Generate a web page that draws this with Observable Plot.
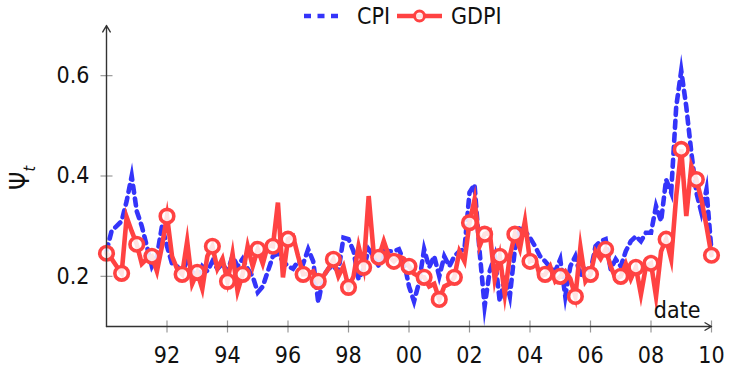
<!DOCTYPE html>
<html>
<head>
<meta charset="utf-8">
<script src="https://cdn.jsdelivr.net/npm/d3@7"></script>
<script src="https://cdn.jsdelivr.net/npm/@observablehq/plot@0.6"></script>
<style>
  html, body { margin: 0; padding: 0; background: #fff; }
  #wrap { position: relative; width: 730px; height: 367px; font-family: "DejaVu Sans Condensed", "Liberation Sans Narrow", "DejaVu Sans", sans-serif; }
  #chart { position: absolute; left: 0; top: 0; }
  #legend { position: absolute; left: 304px; top: 2px; height: 28px; display: flex; align-items: center; font-size: 23px; color: #111; }
  #legend svg { display: block; }
  #ylab { position: absolute; left: 22px; top: 178px; transform: translate(-50%, -50%) rotate(-90deg); font-size: 26px; white-space: nowrap; color: #111; }
  #ylab sub { font-size: 16px; font-style: italic; }
</style>
</head>
<body>
<div id="wrap">
  <div id="chart"></div>
  <div id="legend"></div>
  <div id="ylab">Ψ<sub>t</sub></div>
</div>
<script>
// ---- data (sampled every 2 months from 1990.0 to 2010.0) ----
const startYear = 1990;
const stepsPerYear = 6;

const cpi = [
  0.25, 0.29, 0.30, 0.31, 0.35, 0.40,   // 1990
  0.33, 0.30, 0.26, 0.22, 0.24, 0.30,   // 1991
  0.26, 0.225, 0.22, 0.21, 0.23, 0.21,  // 1992
  0.195, 0.22, 0.21, 0.23, 0.215, 0.225,// 1993
  0.21, 0.24, 0.22, 0.235, 0.215, 0.20, // 1994
  0.168, 0.18, 0.21, 0.24, 0.245, 0.23, // 1995
  0.22, 0.215, 0.23, 0.225, 0.254, 0.23,// 1996
  0.148, 0.20, 0.215, 0.22, 0.21, 0.277,// 1997
  0.274, 0.25, 0.194, 0.215, 0.254, 0.24,// 1998
  0.22, 0.254, 0.25, 0.25, 0.254, 0.23, // 1999
  0.18, 0.15, 0.188, 0.254, 0.218, 0.24,// 2000
  0.20, 0.24, 0.22, 0.24, 0.25, 0.254,  // 2001
  0.367, 0.383, 0.25, 0.14, 0.21, 0.24, // 2002
  0.15, 0.20, 0.16, 0.254, 0.30, 0.29,  // 2003
  0.277, 0.26, 0.24, 0.23, 0.218, 0.21, // 2004
  0.234, 0.16, 0.22, 0.24, 0.20, 0.22,  // 2005
  0.21, 0.26, 0.27, 0.274, 0.214, 0.234,// 2006
  0.22, 0.25, 0.27, 0.28, 0.27, 0.287,  // 2007
  0.287, 0.34, 0.31, 0.393, 0.367, 0.538,// 2008
  0.61, 0.538, 0.447, 0.367, 0.327, 0.373,// 2009
  0.25                                   // 2010
];

const gdpi = [
  0.246, 0.235, 0.22,  0.206, 0.318, 0.29,   // 1990
  0.264, 0.225, 0.235, 0.24, 0.21, 0.26,     // 1991
  0.32, 0.24, 0.215,   0.204, 0.27, 0.185,   // 1992
  0.208, 0.175, 0.24,  0.26, 0.215, 0.235,   // 1993
  0.19, 0.245, 0.17,   0.204, 0.26, 0.22,    // 1994
  0.254, 0.225, 0.262, 0.26, 0.347, 0.198,   // 1995
  0.274, 0.28, 0.24,   0.204, 0.205, 0.21,   // 1996
  0.19, 0.20, 0.215,   0.234, 0.20, 0.22,    // 1997
  0.178, 0.20, 0.26,   0.218, 0.36, 0.245,   // 1998
  0.238, 0.27, 0.24,   0.23, 0.24, 0.235,    // 1999
  0.22, 0.205, 0.20,   0.198, 0.18, 0.185,   // 2000
  0.154, 0.18, 0.185,  0.198, 0.25, 0.23,    // 2001
  0.307, 0.353, 0.26,  0.284, 0.29, 0.194,   // 2002
  0.24, 0.164, 0.24,   0.284, 0.255, 0.31,   // 2003
  0.23, 0.235, 0.20,   0.204, 0.22, 0.19,    // 2004
  0.20, 0.21, 0.195,   0.16, 0.258, 0.19,    // 2005
  0.204, 0.25, 0.235,  0.254, 0.22, 0.195,   // 2006
  0.20, 0.225, 0.195,  0.218, 0.164, 0.22,   // 2007
  0.226, 0.16, 0.25,   0.274, 0.234, 0.36,   // 2008
  0.453, 0.32, 0.42,   0.393, 0.353, 0.30,   // 2009
  0.242                                      // 2010
];
const markEvery = 3; // a circle every half year

const seriesNames = ["CPI", "GDPI"];
const seriesColors = ["#3434fa", "#ff4242"];

const xTicks = [1992, 1994, 1996, 1998, 2000, 2002, 2004, 2006, 2008, 2010];
const xTickLabels = ["92", "94", "96", "98", "00", "02", "04", "06", "08", "10"];
const yTicks = [0.2, 0.4, 0.6];
const yTickLabels = ["0.2", "0.4", "0.6"];
const xLabel = "date";

// ---- build tables ----
const cpiData = cpi.map((v, i) => ({ t: startYear + i / stepsPerYear, v }));
const gdpiData = gdpi.map((v, i) => ({ t: startYear + i / stepsPerYear, v, i }));
const gdpiMarks = gdpiData.filter(d => d.i % markEvery === 0);

const font = "'DejaVu Sans Condensed', 'Liberation Sans Narrow', 'DejaVu Sans', sans-serif";

// tick-mark symbols crossing the axis line
const vTick = { draw(ctx) { ctx.moveTo(0, -6); ctx.lineTo(0, 6); } };
const hTick = { draw(ctx) { ctx.moveTo(-6, 0); ctx.lineTo(6, 0); } };

const plot = Plot.plot({
  width: 730,
  height: 367,
  marginLeft: 106,
  marginRight: 19,
  marginTop: 25,
  marginBottom: 41,
  style: { fontFamily: font, fontSize: "23px", color: "#111", background: "white" },
  x: { domain: [1990, 2010] },
  y: { domain: [0.1, 0.7] },
  marks: [
    // data
    Plot.line(cpiData, { x: "t", y: "v", stroke: seriesColors[0], strokeWidth: 4.6, strokeDasharray: "7,6", strokeLinejoin: "miter", strokeMiterlimit: 10 }),
    Plot.line(gdpiData, { x: "t", y: "v", stroke: seriesColors[1], strokeWidth: 4.6, strokeLinejoin: "miter", strokeMiterlimit: 10 }),
    Plot.dot(gdpiMarks, { x: "t", y: "v", r: 6.8, stroke: seriesColors[1], strokeWidth: 3.6, fill: "white", fillOpacity: 0.85 }),
    // tick marks crossing the axes
    Plot.dot(xTicks, { x: d => d, y: () => 0.1, symbol: vTick, stroke: "#999", strokeWidth: 1.2, fill: "none" }),
    Plot.dot(yTicks, { x: () => 1990, y: d => d, symbol: hTick, stroke: "#999", strokeWidth: 1.2, fill: "none" }),
    // axis lines with arrows
    Plot.arrow([{ x1: 1990, y1: 0.1, x2: 2010, y2: 0.1 }], { x1: "x1", y1: "y1", x2: "x2", y2: "y2", stroke: "#333", strokeWidth: 1.4, headLength: 8, bend: 0 }),
    Plot.arrow([{ x1: 1990, y1: 0.1, x2: 1990, y2: 0.7 }], { x1: "x1", y1: "y1", x2: "x2", y2: "y2", stroke: "#333", strokeWidth: 1.4, headLength: 8, bend: 0 }),
    // tick labels
    Plot.axisX({ ticks: xTicks, tickFormat: d => xTickLabels[xTicks.indexOf(d)], tickSize: 0, tickPadding: 20, fontSize: 23, fill: "#111", label: null }),
    Plot.axisY({ ticks: yTicks, tickFormat: d => yTickLabels[yTicks.indexOf(d)], tickSize: 0, tickPadding: 17, fontSize: 23, fill: "#111", label: null }),
    // axis name
    Plot.text([xLabel], { frameAnchor: "bottom-right", dx: -11, dy: -9, textAnchor: "end", lineAnchor: "bottom", fontSize: 23, fill: "#111" })
  ]
});
document.getElementById("chart").appendChild(plot);

// ---- legend ----
const legend = document.getElementById("legend");
const svgNS = "http://www.w3.org/2000/svg";
function swatch(kind, color) {
  const w = kind === "dash" ? 40 : 45;
  const s = document.createElementNS(svgNS, "svg");
  s.setAttribute("width", w); s.setAttribute("height", 24);
  const l = document.createElementNS(svgNS, "line");
  l.setAttribute("x1", 0); l.setAttribute("x2", w); l.setAttribute("y1", 12); l.setAttribute("y2", 12);
  l.setAttribute("stroke", color); l.setAttribute("stroke-width", 4.6);
  if (kind === "dash") l.setAttribute("stroke-dasharray", "7,6.5");
  s.appendChild(l);
  if (kind === "dot") {
    const c = document.createElementNS(svgNS, "circle");
    c.setAttribute("cx", w / 2); c.setAttribute("cy", 12); c.setAttribute("r", 5);
    c.setAttribute("stroke", color); c.setAttribute("stroke-width", 3); c.setAttribute("fill", "white"); c.setAttribute("fill-opacity", 0.85);
    s.appendChild(c);
  }
  return s;
}
const kinds = ["dash", "dot"];
seriesNames.forEach((name, k) => {
  const sw = swatch(kinds[k], seriesColors[k]);
  sw.style.marginLeft = k === 0 ? "0px" : "7px";
  legend.appendChild(sw);
  const sp = document.createElement("span");
  sp.textContent = name;
  sp.style.marginLeft = k === 0 ? "13px" : "9px";
  legend.appendChild(sp);
});
</script>
</body>
</html>
